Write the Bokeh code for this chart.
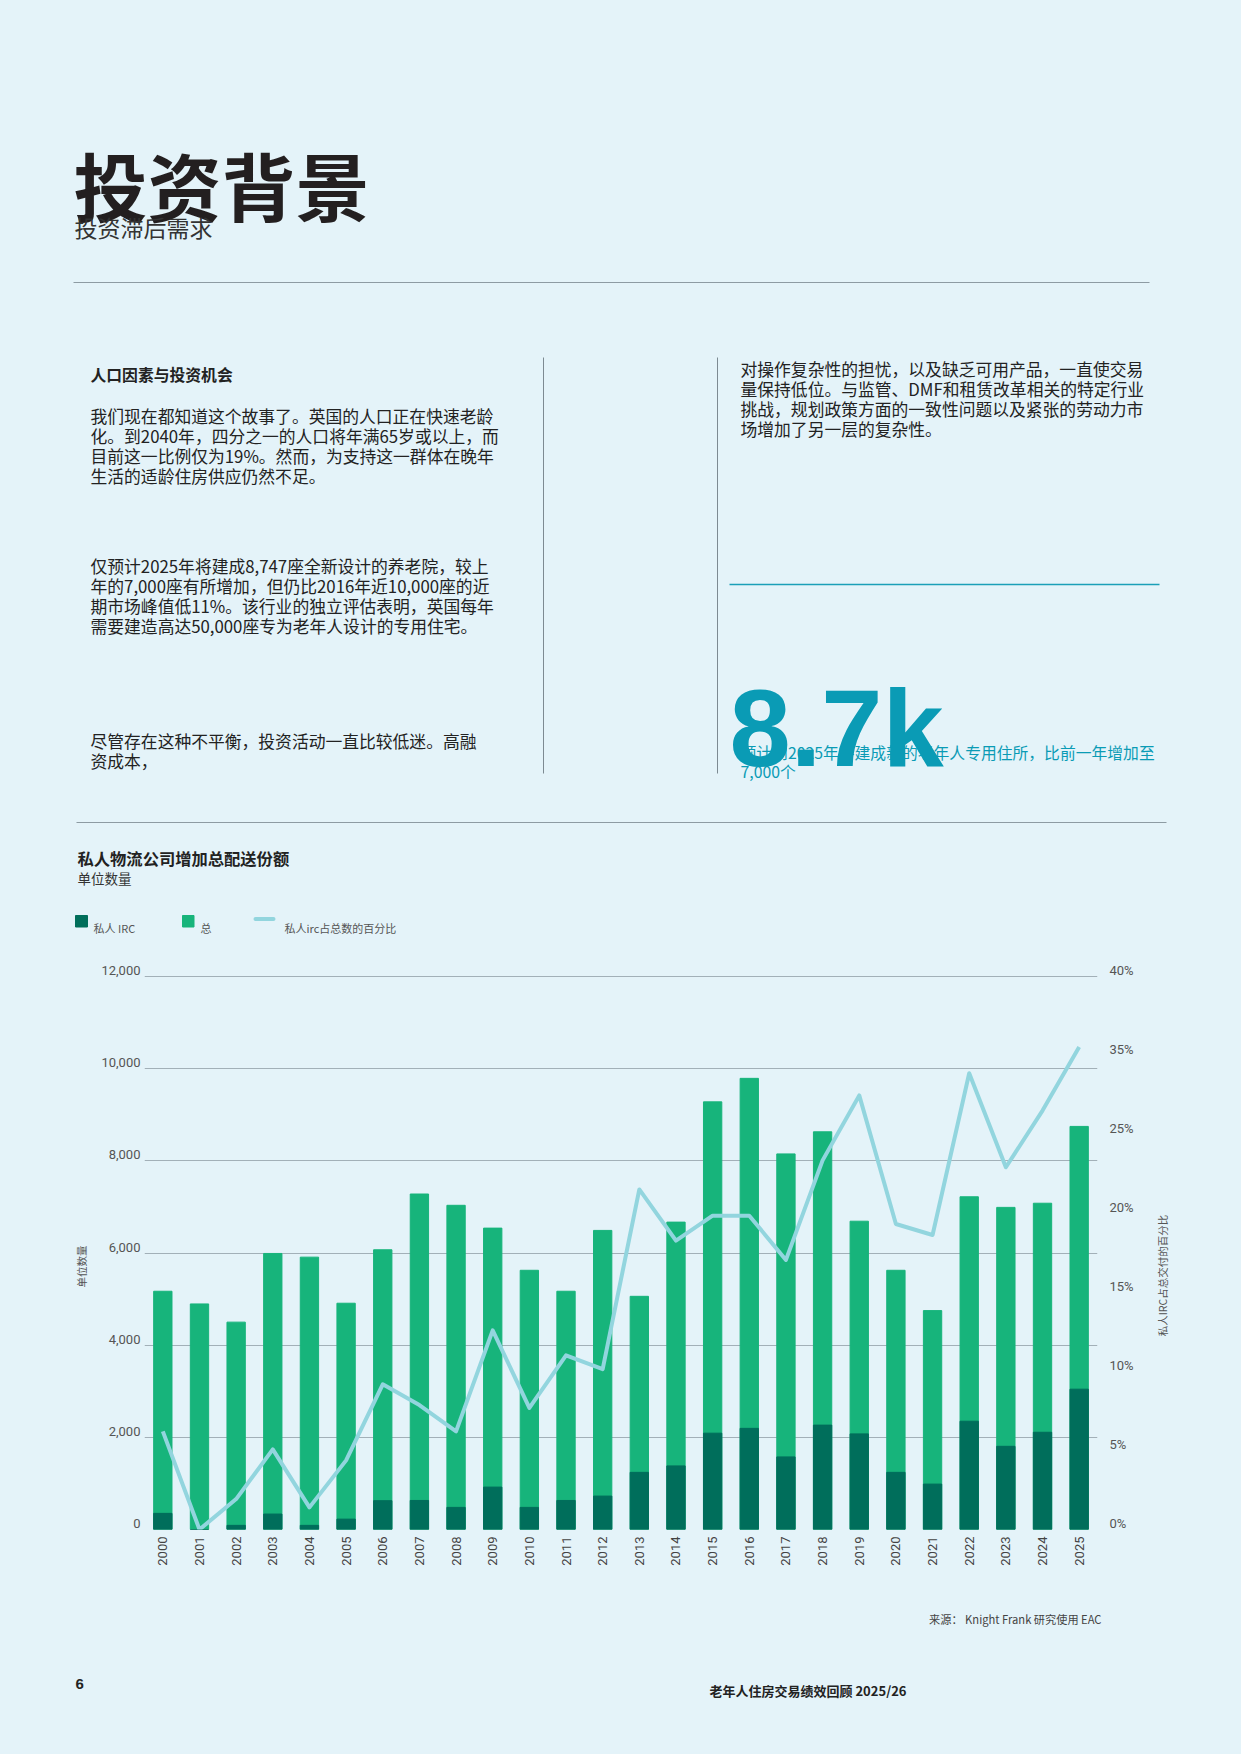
import math
from bokeh.plotting import figure
from bokeh.models import (Range1d, FactorRange, LinearAxis, FixedTicker,
                          CustomJSTickFormatter, GlobalInlineStyleSheet)
from bokeh.layouts import column, row
from bokeh.core.properties import value
from bokeh.embed import file_html
from bokeh.resources import INLINE

# ---------------- data ----------------
years = [str(y) for y in range(2000, 2026)]
total_units = [5170, 4895, 4500, 5990, 5910, 4910, 6070, 7280, 7035, 6540, 5625, 5170, 6490,
               5060, 6670, 9280, 9790, 8150, 8630, 6690, 5625, 4750, 7220, 6990, 7080, 8747]
private_irc = [350, 0, 90, 335, 90, 225, 625, 630, 480, 920, 480, 630, 725,
               1240, 1380, 2090, 2195, 1575, 2265, 2075, 1240, 985, 2350, 1805, 2110, 3045]
private_share_pct = [7.1, 0.0, 2.2, 5.8, 1.6, 5.0, 10.5, 9.0, 7.1, 14.4, 8.8, 12.6, 11.6,
                     24.6, 20.9, 22.7, 22.7, 19.5, 26.7, 31.4, 22.1, 21.3, 33.0, 26.2, 30.3, 34.9]
left_ticks = [0, 2000, 4000, 6000, 8000, 10000, 12000]
left_tick_labels = ["0", "2,000", "4,000", "6,000", "8,000", "10,000", "12,000"]
right_tick_labels = ["0%", "5%", "10%", "15%", "20%", "25%", "35%", "40%"]
pct_max = 40

# ---------------- style ----------------
BG = "#e4f3f9"
CJK = "Noto Sans CJK SC"
NUM = "Roboto"
DARK = "#006e5b"
GREEN = "#17b47b"
LINEC = "#92d5de"
TEAL = "#0a9bb5"
W = 1241


def page_fig(x0, x1, y0, y1):
    f = figure(width=x1 - x0, height=y1 - y0, x_range=Range1d(x0, x1), y_range=Range1d(y1, y0),
               x_axis_type=None, y_axis_type=None, toolbar_location=None,
               output_backend="svg", min_border=0, outline_line_color=None,
               background_fill_color=BG, border_fill_color=BG, frame_align=False)
    f.grid.visible = False
    return f


def txt(f, x, y, t, size, color="#222", bold=False, font=CJK, align="left", baseline="middle", angle=0):
    f.text(x=[x], y=[y], text=[t], text_font=value(font), text_font_size=size,
           text_font_style="bold" if bold else "normal", text_color=color,
           text_align=align, text_baseline=baseline, angle=angle)


# ---------------- top page part ----------------
top = page_fig(0, W, 0, 945)
txt(top, 73, 183, "投资背景", "74px", "#231f20", bold=True)
txt(top, 74, 226, "投资滞后需求", "23px", "#333333")
top.line(x=[73, 1149], y=[282, 282], line_color="#8d9ba3", line_width=1)

top.line(x=[543, 543], y=[357, 773], line_color="#7d8a92", line_width=1)
top.line(x=[717, 717], y=[357, 773], line_color="#7d8a92", line_width=1)

BODY = "16.8px"
txt(top, 90, 374, "人口因素与投资机会", "15.8px", "#222", bold=True)
p1 = ["我们现在都知道这个故事了。英国的人口正在快速老龄",
      "化。到2040年，四分之一的人口将年满65岁或以上，而",
      "目前这一比例仅为19%。然而，为支持这一群体在晚年",
      "生活的适龄住房供应仍然不足。"]
p2 = ["仅预计2025年将建成8,747座全新设计的养老院，较上",
      "年的7,000座有所增加，但仍比2016年近10,000座的近",
      "期市场峰值低11%。该行业的独立评估表明，英国每年",
      "需要建造高达50,000座专为老年人设计的专用住宅。"]
p3 = ["尽管存在这种不平衡，投资活动一直比较低迷。高融",
      "资成本，"]
pr = ["对操作复杂性的担忧，以及缺乏可用产品，一直使交易",
      "量保持低位。与监管、DMF和租赁改革相关的特定行业",
      "挑战，规划政策方面的一致性问题以及紧张的劳动力市",
      "场增加了另一层的复杂性。"]
for i, s in enumerate(p1):
    txt(top, 90, 415 + 20 * i, s, BODY)
for i, s in enumerate(p2):
    txt(top, 90, 565 + 20 * i, s, BODY)
for i, s in enumerate(p3):
    txt(top, 90, 740 + 20.5 * i, s, BODY)
for i, s in enumerate(pr):
    txt(top, 740, 368 + 20.3 * i, s, BODY)

top.line(x=[729, 1159], y=[584, 584], line_color="#1a9fb8", line_width=1.5)
txt(top, 740, 752, "预计到2025年将建成新的老年人专用住所，比前一年增加至", "15.8px", TEAL)
txt(top, 740, 771, "7,000个", "15.8px", TEAL)
txt(top, 729, 727, "8.7k", "110px", TEAL, bold=True, font="Liberation Sans", baseline="alphabetic")

top.line(x=[76, 1166], y=[822, 822], line_color="#8d9ba3", line_width=1)

txt(top, 77, 857, "私人物流公司增加总配送份额", "16.3px", "#222", bold=True)
txt(top, 77, 877, "单位数量", "13.5px", "#333")

top.quad(left=[75], right=[87], top=[915], bottom=[926.5], color=DARK)
txt(top, 93, 927, "私人 IRC", "11px", "#555")
top.quad(left=[182], right=[193.5], top=[915], bottom=[926.5], color=GREEN)
txt(top, 200, 927, "总", "11px", "#555")
top.line(x=[255, 273], y=[918.5, 918.5], line_color=LINEC, line_width=4, line_cap="round")
txt(top, 284, 927, "私人irc占总数的百分比", "11px", "#555")

# ---------------- chart ----------------
FH = 553          # pixel height of the 0..12000 span
FW = 953
EXTRA = 12        # free pixels above the top gridline
y_top = left_ticks[-1] * (FH + EXTRA) / FH
px = left_ticks[-1] / FH          # data units per pixel
lab_off = 6 * px                  # labels sit a little above their gridline

CH0, CH1 = 945, 1590              # vertical extent of the chart row
LW, RX = 94, 1145                 # left strip width, start of right strip
BL = 144 - LW                     # chart's own left border

p = figure(x_range=FactorRange(factors=years), y_range=Range1d(0, y_top),
           frame_width=FW, frame_height=FH + EXTRA,
           min_border_left=BL, min_border_right=RX - LW - BL - FW,
           min_border_top=19, min_border_bottom=61,
           toolbar_location=None, output_backend="svg", outline_line_color=None,
           background_fill_color=BG, border_fill_color=BG, frame_align=False)
p.extra_y_ranges = {"pct": Range1d(0, pct_max * (FH + EXTRA) / FH)}

p.vbar(x=years, top=total_units, width=0.5, color=GREEN)
p.vbar(x=years, top=private_irc, width=0.5, color=DARK)
p.line(x=years, y=private_share_pct, y_range_name="pct", line_color=LINEC, line_width=4,
       line_join="round")

p.xgrid.grid_line_color = None
p.ygrid.ticker = FixedTicker(ticks=left_ticks)
p.ygrid.grid_line_color = "#a2b0b8"
p.ygrid.grid_line_width = 1

xa = p.xaxis[0]
xa.axis_line_color = None
xa.major_tick_line_color = None
xa.minor_tick_line_color = None
xa.major_tick_out = 0
xa.major_tick_in = 0
xa.major_label_orientation = math.pi / 2
xa.major_label_standoff = 7
xa.major_label_text_font = NUM
xa.major_label_text_font_size = "13px"
xa.major_label_text_color = "#444"

ya = p.yaxis[0]
ya.ticker = FixedTicker(ticks=[t + lab_off for t in left_ticks])
ya.formatter = CustomJSTickFormatter(args=dict(labels=left_tick_labels, off=lab_off, step=2000),
                                     code="return labels[Math.round((tick - off) / step)];")
ya.axis_line_color = None
ya.major_tick_line_color = None
ya.minor_tick_line_color = None
ya.major_tick_out = 0
ya.major_tick_in = 0
ya.major_label_standoff = 4
ya.major_label_text_font = NUM
ya.major_label_text_font_size = "13px"
ya.major_label_text_color = "#555"

r_step = left_ticks[-1] / (len(right_tick_labels) - 1)
ra = LinearAxis(ticker=FixedTicker(ticks=[k * r_step + lab_off for k in range(len(right_tick_labels))]),
                formatter=CustomJSTickFormatter(args=dict(labels=right_tick_labels, off=lab_off, step=r_step),
                                                code="return labels[Math.round((tick - off) / step)];"))
ra.axis_line_color = None
ra.major_tick_line_color = None
ra.minor_tick_line_color = None
ra.major_tick_out = 0
ra.major_tick_in = 0
ra.major_label_standoff = 12
ra.major_label_text_font = NUM
ra.major_label_text_font_size = "13px"
ra.major_label_text_color = "#555"
p.add_layout(ra, "right")

# side strips carrying the two axis titles (both read bottom-to-top)
left_strip = page_fig(0, LW, CH0, CH1)
txt(left_strip, 81, 1266, "单位数量", "10.5px", "#555", align="center", angle=math.pi / 2)
right_strip = page_fig(RX, W, CH0, CH1)
txt(right_strip, 1162, 1275, "私人IRC占总交付的百分比", "10.5px", "#555", align="center",
    angle=math.pi / 2)

# ---------------- bottom page part ----------------
bot = page_fig(0, W, CH1, 1754)
txt(bot, 1101, 1618, "来源： Knight Frank 研究使用 EAC", "11.2px", "#444", align="right")
txt(bot, 75, 1683, "6", "15px", "#222", bold=True, font="Liberation Sans")
txt(bot, 709, 1690, "老年人住房交易绩效回顾 2025/26", "13px", "#222", bold=True)

page = column(top, row(left_strip, p, right_strip, spacing=0), bot, spacing=0,
              stylesheets=[GlobalInlineStyleSheet(css="body{background-color:#e4f3f9;}")])

open("out.html", "w").write(file_html(page, INLINE))
